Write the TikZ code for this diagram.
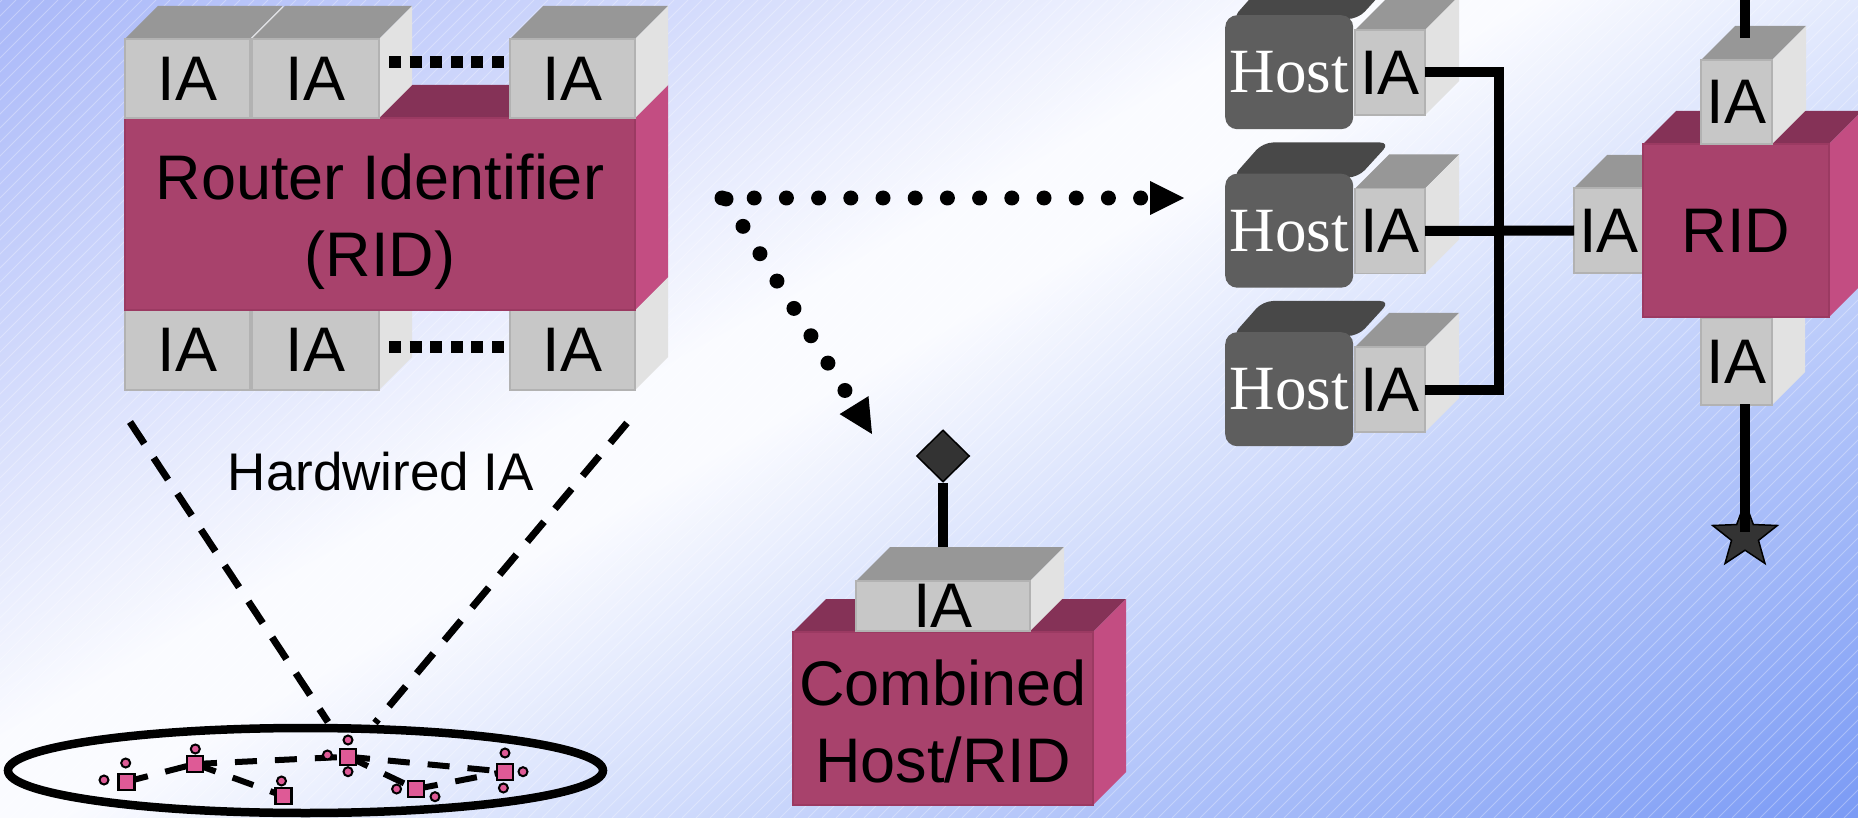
\documentclass[tikz,border=0pt]{standalone}
\usepackage{fontspec}
\setmainfont{Liberation Sans}
\newfontfamily\hostfont{Liberation Serif}
\usetikzlibrary{shapes.geometric,arrows.meta}

\definecolor{bgTL}{RGB}{168,183,248}
\definecolor{bgBR}{RGB}{122,154,245}
\definecolor{bgW}{RGB}{250,251,255}
\definecolor{iaFront}{RGB}{199,199,199}
\definecolor{iaTop}{RGB}{151,151,151}
\definecolor{iaSide}{RGB}{226,226,226}
\definecolor{iaEdge}{RGB}{178,178,178}
\definecolor{ridFront}{RGB}{168,66,108}
\definecolor{ridTop}{RGB}{133,50,87}
\definecolor{ridSide}{RGB}{195,77,130}
\definecolor{ridEdge}{RGB}{155,58,98}
\definecolor{hostFront}{RGB}{94,94,94}
\definecolor{hostTop}{RGB}{72,72,72}
\definecolor{netPink}{RGB}{222,90,150}
\definecolor{darkFill}{RGB}{51,51,51}

\pgfdeclareverticalshading{backdrop}{100bp}{color(0bp)=(bgBR); color(25bp)=(bgBR); color(52bp)=(bgW); color(55bp)=(bgW); color(75bp)=(bgTL); color(100bp)=(bgTL)}

\newcommand{\boxfont}{\fontsize{63}{75}\selectfont}

% 3-D block: #1 name, #2 x, #3 y (front top-left), #4 width, #5 height,
% #6 colour set, #7 depth, #8 label
\newcommand{\solidbox}[8]{%
  \fill[#6Top] (#2,#3) -- ({#2+#7},{#3-#7}) -- ({#2+#4+#7},{#3-#7}) -- ({#2+#4},{#3}) -- cycle;
  \fill[#6Side] ({#2+#4},{#3}) -- ({#2+#4+#7},{#3-#7}) -- ({#2+#4+#7},{#3+#5-#7}) -- ({#2+#4},{#3+#5}) -- cycle;
  \node[face, fill=#6Front, draw=#6Edge, minimum width=#4, minimum height=#5, anchor=north west] (#1) at (#2,#3) {#8};
}

% host with its interface: #1 host name, #2 interface name, #3 y of host front
\newcommand{\hostunit}[3]{%
  \pgfmathsetmacro\hiay{#3+15}
  \fill[hostTop, rounded corners=10pt] (1232,{#3+4}) -- (1263,{#3-31}) -- (1390,{#3-31}) -- (1358,{#3+4}) -- cycle;
  \node[hostface, anchor=north west] (#1) at (1225,#3) {Host};
  \solidbox{#2}{1355}{\hiay}{70}{85}{ia}{34}{IA}
}

\begin{document}
\begin{tikzpicture}[x=1pt, y=-1pt,
  face/.style={rectangle, inner sep=0pt, outer sep=0pt, line width=1.2pt, font=\boxfont},
  boxlabel/.style={inner sep=0pt, font=\boxfont},
  hostface/.style={rectangle, rounded corners=12pt, fill=hostFront, minimum width=128, minimum height=114,
    inner sep=0pt, text=white, font=\hostfont\boxfont},
  sqdots/.style={line width=12pt, dash pattern=on 12pt off 8.6pt},
  hwline/.style={line width=7pt, dash pattern=on 26pt off 17pt},
  dotarrow/.style={line width=15pt, line cap=round, dash pattern=on 0pt off 32.2pt,
    -{Triangle[length=34pt 0 0, width=34pt 0 0, line width=0pt 0 0]}},
  wire/.style={line width=10pt, line join=miter},
  netsq/.style={rectangle, draw=black, line width=2.2pt, fill=netPink, minimum size=16, inner sep=0pt},
  netdot/.style={circle, draw=black, line width=2pt, fill=netPink, minimum size=9, inner sep=0pt},
  netlink/.style={line width=6pt, dash pattern=on 22pt off 18pt},
  hatch/.style={white, line width=0.9pt, opacity=0.3},
  markshape/.style={draw=black, line width=1.5pt, fill=darkFill, inner sep=0pt}
]
\useasboundingbox (0,0) rectangle (1858,818);
\begin{scope}
\clip (0,0) rectangle (1858,818);

% backdrop
\begin{scope}[transform canvas={shift={(929,409)}, rotate=29}]
  \shade[shading=backdrop] (-1300,-810) rectangle (1300,810);
\end{scope}
\foreach \k in {-830,-816,...,1860} \draw[hatch] (\k,818) -- ({\k+818},0);

% ---------- router identifier with its interfaces ----------
\solidbox{b1}{125}{310}{125}{80}{ia}{33}{IA}
\solidbox{b2}{252}{310}{127}{80}{ia}{33}{IA}
\solidbox{b3}{510}{310}{125}{80}{ia}{33}{IA}
\solidbox{rid}{125}{118}{510}{192}{rid}{33}{}
\node[boxlabel, anchor=base] (ridA) at (380,200) {Router Identifier};
\node[boxlabel, anchor=base] (ridB) at (380,277) {(RID)};
\solidbox{t1}{125}{39}{125}{79}{ia}{33}{IA}
\solidbox{t2}{252}{39}{127}{79}{ia}{33}{IA}
\solidbox{t3}{510}{39}{125}{79}{ia}{33}{IA}
\draw[sqdots] ([xshift=10pt, yshift=16.5pt]t2.east) -- ([xshift=-6pt, yshift=16.5pt]t3.west);
\draw[sqdots] ([xshift=10pt, yshift=3pt]b2.east) -- ([xshift=-6pt, yshift=3pt]b3.west);

% ---------- hardwired interfaces ----------
\coordinate (hwL) at (130,422);
\coordinate (hwR) at (627,423);
\coordinate (netL) at (328,722);
\coordinate (netR) at (375,723);
\draw[hwline] (hwL) -- (netL);
\draw[hwline] (hwR) -- (netR);
\node[inner sep=0pt, font=\fontsize{53}{60}\selectfont, anchor=base] (hw) at (381,490) {Hardwired IA};

\node[ellipse, draw=black, line width=8.5pt, minimum width=595, minimum height=85, inner sep=0pt] (net) at (305.5,770.5) {};

\coordinate (pA) at (126.5,781.7);
\coordinate (pB) at (195,764);
\coordinate (pC) at (283.5,796);
\coordinate (pD) at (348,756.7);
\coordinate (pE) at (416,789);
\coordinate (pF) at (505,771.7);
\draw[netlink] (pA) -- (pB);
\draw[netlink] (pB) -- (pC);
\draw[netlink] (pB) -- (pD);
\draw[netlink] (pD) -- (pE);
\draw[netlink] (pD) -- (pF);
\draw[netlink] (pE) -- (pF);
\foreach \nm/\px/\py in {a1/104/780, a2/125.7/763, b1/195.3/749, c1/281.5/781,
  d1/327.4/755, d2/348/740, d3/348/771.7, e1/396.6/789, e2/435/796.7,
  f1/505/753, f2/523/771.7, f3/503.4/788}
  \node[netdot] (dot\nm) at (\px,\py) {};
\foreach \nm in {A,B,C,D,E,F}
  \node[netsq] (sq\nm) at (p\nm) {};

% ---------- dotted arrows ----------
\coordinate (src) at (722,198);
\coordinate (srcB) at (726,199);
\coordinate (toHosts) at (1184,198);
\coordinate (toComb) at (872,434);
\draw[dotarrow] (src) -- (toHosts);
\draw[dotarrow] (srcB) -- (toComb);

% ---------- combined host / RID ----------
\solidbox{crid}{793}{632}{300}{173}{rid}{33}{}
\node[boxlabel, anchor=base] (combA) at (943,705) {Combined};
\node[boxlabel, anchor=base] (combB) at (943,782) {Host/RID};
\coordinate (ciatop) at (943,547);
\node[diamond, markshape, minimum width=53, minimum height=52] (dia) at (943,456) {};
\draw[wire] (dia.south) -- (ciatop);
\solidbox{cia}{856}{581}{174}{50}{ia}{34}{IA}

% ---------- hosts attached to a router ----------
\hostunit{h1}{hia1}{15}
\hostunit{h2}{hia2}{173.5}
\hostunit{h3}{hia3}{332}

\solidbox{ial}{1574}{188}{70}{85}{ia}{33}{IA}
\solidbox{iab}{1701}{318}{71}{87}{ia}{33}{IA}
\solidbox{ridr}{1643}{144}{186}{173}{rid}{33}{RID}
\solidbox{iat}{1701}{60}{71}{84}{ia}{34}{IA}

\coordinate (bus) at (1499,231);
\draw[wire] (hia1.east) -| (bus) |- (hia3.east);
\draw[wire] (hia2.east) -- (ial.west);

\coordinate (iattop) at (1745,38);
\coordinate (uplink) at (1745,-6);
\draw[wire] (iattop) -- (uplink);

\coordinate (iabfoot) at (1745,404);
\node[star, star points=5, star point ratio=2.4, markshape, minimum size=68] (st) at (1745,536) {};
\draw[wire] (iabfoot) -- ([yshift=4pt]st.center);

\end{scope}
\end{tikzpicture}
\end{document}
